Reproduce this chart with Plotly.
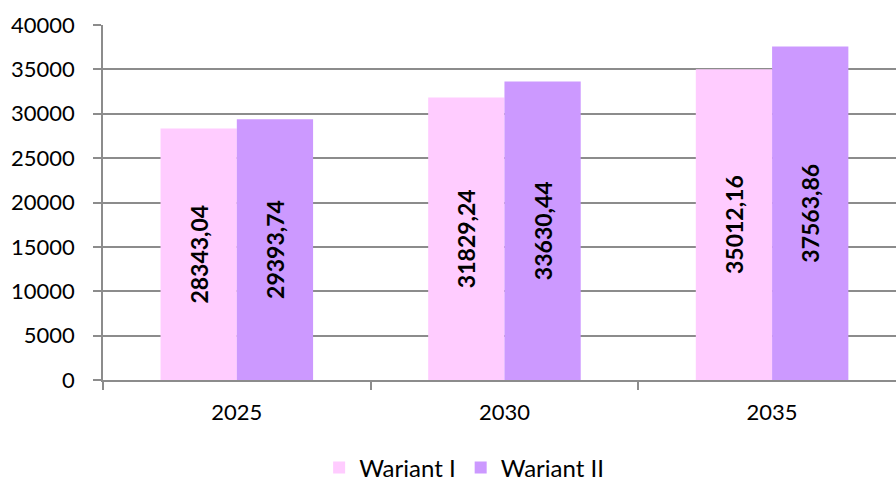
import plotly.graph_objects as go

years = ["2025", "2030", "2035"]
wariant_1 = [28343.04, 31829.24, 35012.16]
wariant_2 = [29393.74, 33630.44, 37563.86]
y_ticks = [0, 5000, 10000, 15000, 20000, 25000, 30000, 35000, 40000]

def fmt(v):
    return f"{v:.2f}".replace(".", ",")

FONT = "Lato"
GRID = "#8c8c8c"

fig = go.Figure()
fig.add_trace(go.Bar(
    name="Wariant I", x=years, y=wariant_1,
    marker=dict(color="#FFCCFF", line=dict(width=0)),
    text=[fmt(v) for v in wariant_1], textposition="inside",
    insidetextanchor="middle", textangle=-90,
    textfont=dict(family=FONT, size=23, color="black", weight="bold"),
))
fig.add_trace(go.Bar(
    name="Wariant II", x=years, y=wariant_2,
    marker=dict(color="#CC99FF", line=dict(width=0)),
    text=[fmt(v) for v in wariant_2], textposition="inside",
    insidetextanchor="middle", textangle=-90,
    textfont=dict(family=FONT, size=23, color="black", weight="bold"),
))

fig.update_layout(
    width=896, height=481,
    margin=dict(l=103, r=0, t=25, b=101, autoexpand=False),
    paper_bgcolor="white", plot_bgcolor="white",
    barmode="group", bargap=0.43, bargroupgap=0,
    font=dict(family=FONT, size=22, color="black"),
    showlegend=True,
    legend=dict(orientation="h", xref="container", x=0.518, xanchor="center",
                yref="container", y=0.027, yanchor="middle",
                font=dict(family=FONT, size=24, color="black"),
                itemwidth=30, traceorder="normal"),
)
fig.update_xaxes(
    type="category", range=[-0.5, 2.463],
    showline=True, linecolor=GRID, linewidth=1.5,
    ticks="outside", tickson="boundaries", ticklen=8, tickcolor=GRID, tickwidth=1.5,
    showgrid=False, ticklabelstandoff=12,
    tickfont=dict(family=FONT, size=22, color="black"),
)
fig.update_yaxes(
    range=[0, 40000], tickvals=y_ticks, ticktext=[str(t) for t in y_ticks],
    showline=True, linecolor=GRID, linewidth=1.5,
    ticks="outside", ticklen=8, tickcolor=GRID, tickwidth=1.5,
    showgrid=True, gridcolor=GRID, gridwidth=1.5,
    zeroline=False, ticklabelstandoff=14,
    tickfont=dict(family=FONT, size=22, color="black"),
)

fig.write_html("out.html")
